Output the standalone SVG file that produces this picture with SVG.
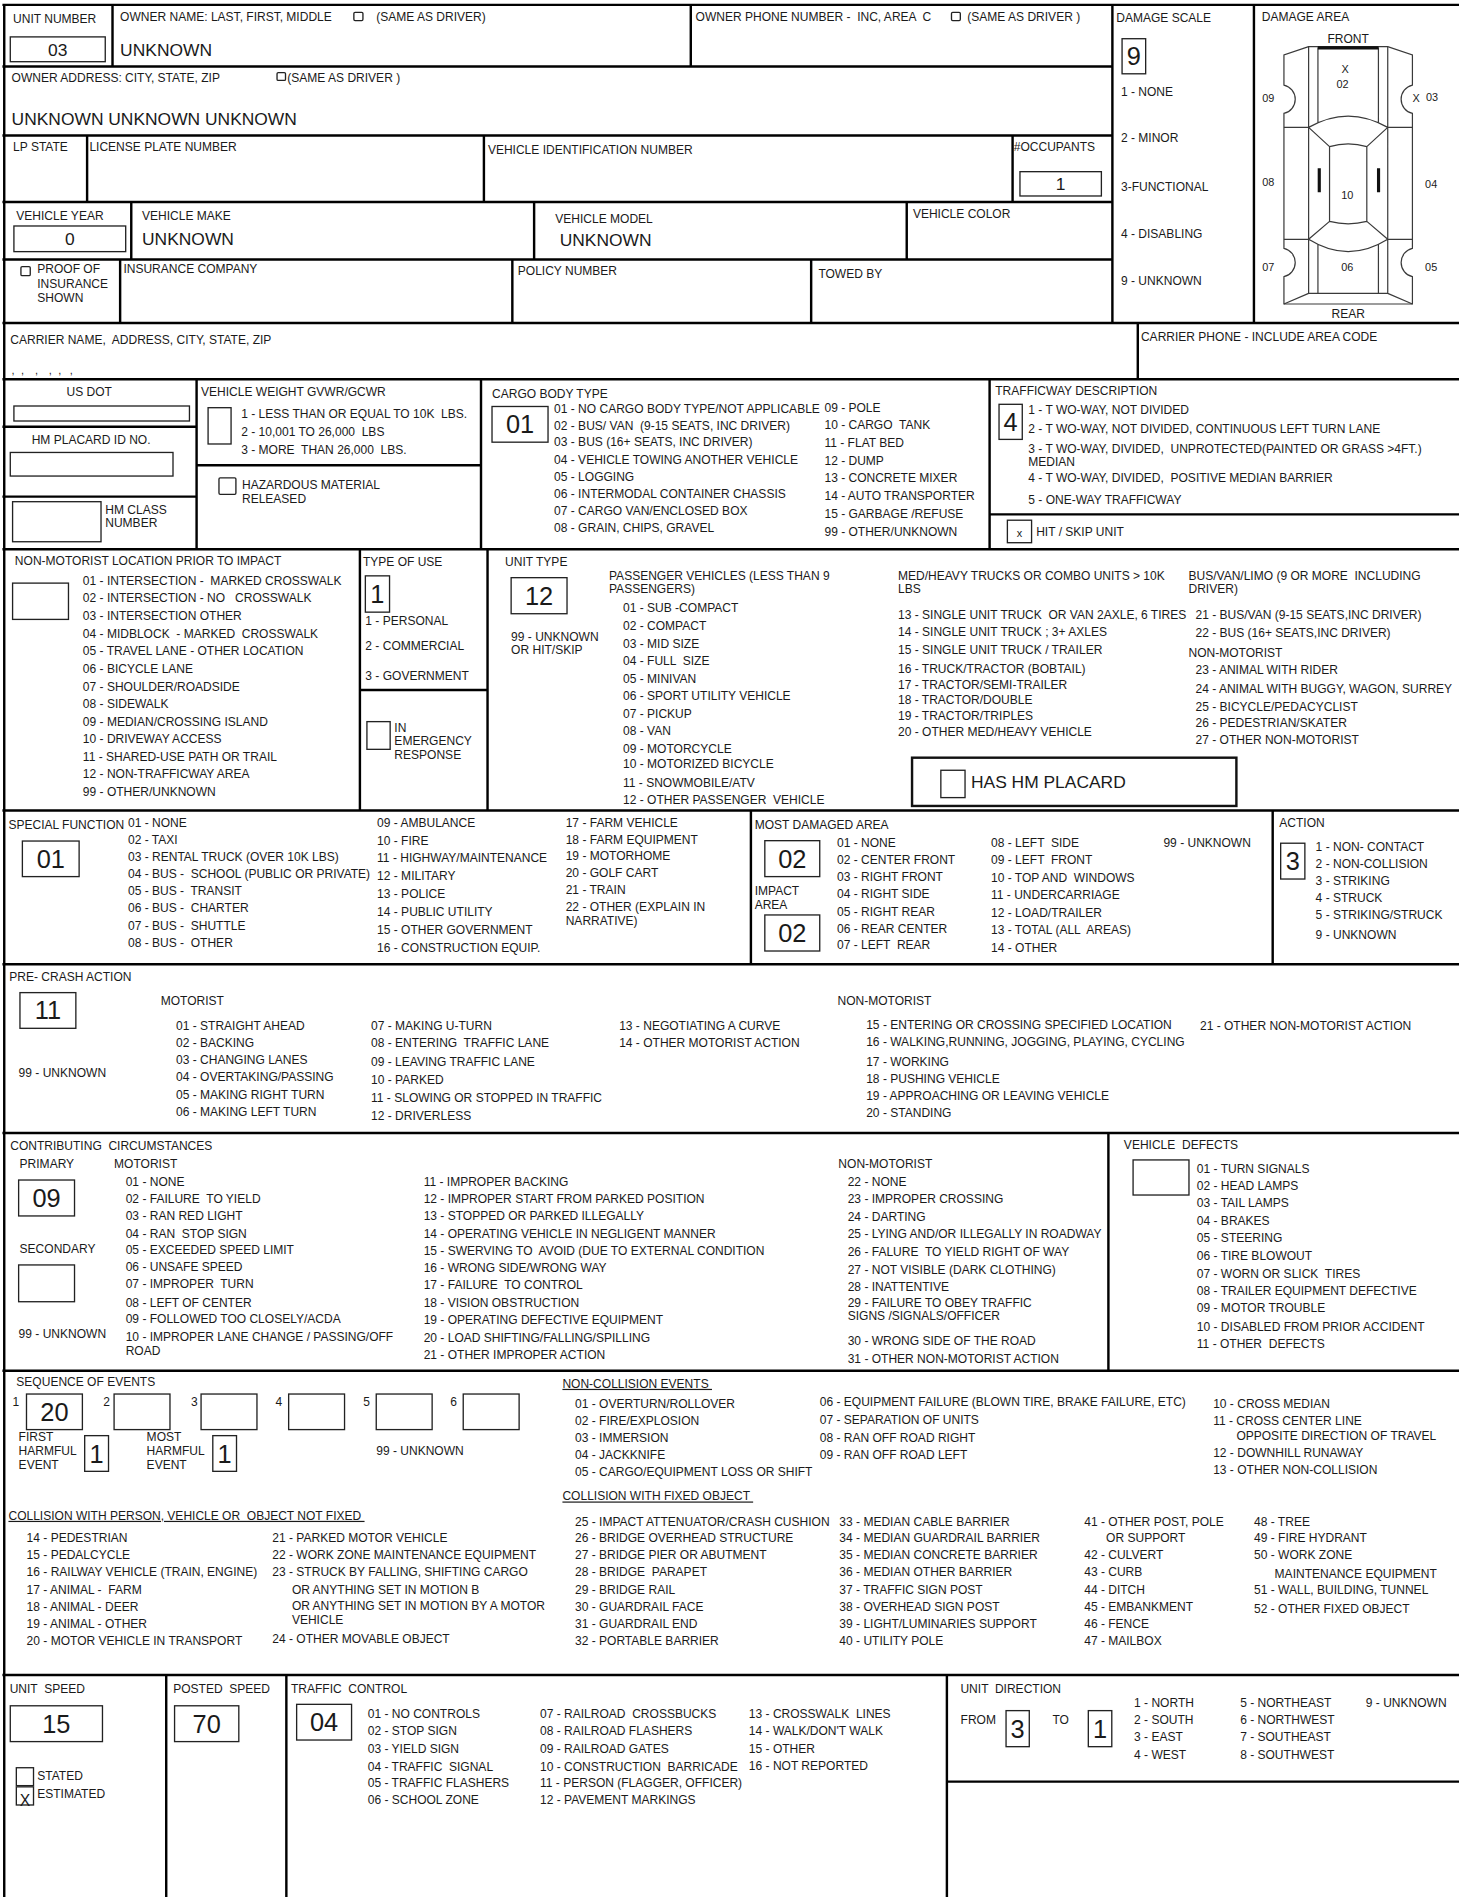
<svg xmlns="http://www.w3.org/2000/svg" width="1459" height="1897" viewBox="0 0 1459 1897" xml:space="preserve">
<style>
text{font-family:"Liberation Sans",Arial,Helvetica,sans-serif;font-size:9.95px;fill:#1a1a1a;white-space:pre}
.v{font-size:14.4px}
.n{font-size:21px;text-anchor:middle}
.m{text-anchor:middle}
.s{font-size:9px}
.u{text-decoration:underline}
.L{stroke:#000;stroke-width:2;fill:none;stroke-linecap:square}
.B{fill:#fff;stroke:#222;stroke-width:1.1}
.H{fill:#fff;stroke:#111;stroke-width:2}
.C{fill:none;stroke:#3a3a3a;stroke-width:1}
</style>
<rect width="1459" height="1897" fill="#fff"/>
<g transform="scale(1.20978)">
<g id="grid">
<path class="L" d="M3,4H1206M3,55H919.5M3,112H919.5M3,167H919.5M3,214.5H919.5M3,267H1206M3,313.5H1206M3,454H1206M3,670H1206M3,797H1206M3,936.5H1206M3,1133H1206M3,1384.5H1206M782.7,1472.7H1206M3,352.7H162.5M3,410.5H162.5M162.5,384.6H397.6M818,425.2H1206M297.5,570.4H403M3.5,4V1568M93,4V55M571,4V55M919.5,4V267M1036.5,4V267M72,112V167M400,112V167M837,112V167M108.5,167V214.5M441.5,167V214.5M749.5,167V214.5M99.3,214.5V267M423.5,214.5V267M670.5,214.5V267M940.5,267V313.5M162.5,313.5V454M397.6,313.5V454M818,313.5V454M297.5,454V670M403,454V670M620.7,670V797M1052,670V797M916.2,936.5V1133M137.4,1384.5V1568M236.7,1384.5V1568M782.7,1384.5V1568"/>
</g>

<g id="owner">
<text x="10.8" y="19.2">UNIT NUMBER</text>
<rect class="B" x="8.5" y="30.5" width="78.5" height="20.5"/>
<text class="v m" x="47.7" y="46">03</text>
<text x="99.3" y="17.3">OWNER NAME: LAST, FIRST, MIDDLE</text>
<rect class="B" x="292.5" y="10.2" width="7.5" height="6.8" rx="1"/>
<text x="311" y="17.3">(SAME AS DRIVER)</text>
<text class="v" x="99.3" y="46">UNKNOWN</text>
<text x="575" y="17.3">OWNER PHONE NUMBER -  INC, AREA  C</text>
<rect class="B" x="786.5" y="10.2" width="7.3" height="6.8" rx="1"/>
<text x="799.6" y="17.3">(SAME AS DRIVER )</text>
<text x="9.6" y="67.4">OWNER ADDRESS: CITY, STATE, ZIP</text>
<rect class="B" x="229" y="60" width="7" height="6.5" rx="1"/>
<text x="237.5" y="67.4">(SAME AS DRIVER )</text>
<text class="v" x="9.6" y="103">UNKNOWN UNKNOWN UNKNOWN</text>
</g>

<g id="vehicle">
<text x="10.8" y="124.7">LP STATE</text>
<text x="73.9" y="124.7">LICENSE PLATE NUMBER</text>
<text x="403.3" y="127.5">VEHICLE IDENTIFICATION NUMBER</text>
<text x="838" y="124.7">#OCCUPANTS</text>
<rect class="B" x="843.1" y="141.9" width="67.3" height="20.1"/>
<text class="v m" x="876.6" y="157">1</text>
<text x="13.5" y="182">VEHICLE YEAR</text>
<rect class="B" x="11.5" y="186.8" width="92.4" height="21.2"/>
<text class="v m" x="57.7" y="202.5">0</text>
<text x="117.4" y="182">VEHICLE MAKE</text>
<text class="v" x="117.4" y="202.5">UNKNOWN</text>
<text x="459" y="184.2">VEHICLE MODEL</text>
<text class="v" x="462.6" y="203.6">UNKNOWN</text>
<text x="754.6" y="179.8">VEHICLE COLOR</text>
<rect class="B" x="17.3" y="220.4" width="7.7" height="7.5" rx="1"/>
<text x="30.8" y="226">PROOF OF</text>
<text x="30.8" y="238.3">INSURANCE</text>
<text x="30.8" y="249.5">SHOWN</text>
<text x="102" y="225.3">INSURANCE COMPANY</text>
<text x="428" y="227.2">POLICY NUMBER</text>
<text x="676.5" y="230">TOWED BY</text>
</g>

<g id="damage-scale">
<text x="922.7" y="17.8">DAMAGE SCALE</text>
<rect class="B" x="927.5" y="32" width="19.5" height="29"/>
<text class="n" x="937.3" y="54">9</text>
<text x="926.6" y="79.3">1 - NONE</text>
<text x="926.6" y="117.8">2 - MINOR</text>
<text x="926.6" y="157.8">3-FUNCTIONAL</text>
<text x="926.6" y="196.4">4 - DISABLING</text>
<text x="926.6" y="235.5">9 - UNKNOWN</text>
</g>

<g id="damage-area">
<text x="1043" y="17.3">DAMAGE AREA</text>
<text class="m" x="1114.4" y="35.7">FRONT</text>
<text class="m" x="1114.4" y="262.5">REAR</text>
<path class="C" d="M1081.7,38.6L1061.3,45.5V70.3A12,12 0 0 1 1061.3,93.7V205.3A12,12 0 0 1 1061.3,228.7V251.3H1167.5V228.7A12,12 0 0 1 1167.5,205.3V93.7A12,12 0 0 1 1167.5,70.3V45.5L1147.1,38.6Z"/>
<path class="C" d="M1081.7,38.6V242.5M1147.1,38.6V242.5M1089.4,39V101.5M1139.4,39V101.5M1089.4,202V242.5M1139.4,202V242.5M1081.7,242.5H1147.1M1061.3,251.3L1081.7,242.5M1167.5,251.3L1147.1,242.5M1061.3,105.3H1081.7M1147.1,105.3H1167.5M1061.3,197.8H1081.7M1147.1,197.8H1167.5M1081.7,105.3Q1114.4,86.5 1147.1,105.3M1081.7,105.3L1099,121.2M1147.1,105.3L1129.8,121.2M1099,121.2Q1114.4,116.8 1129.8,121.2M1099,121.2V183M1129.8,121.2V183M1099,183Q1114.4,187 1129.8,183M1099,183L1081.7,197.8M1129.8,183L1147.1,197.8M1081.7,197.8Q1114.4,218.2 1147.1,197.8"/>
<path stroke="#111" stroke-width="2.6" d="M1089.4,39.6H1139.4M1090.5,139V159M1139.5,139V159"/>
<text class="s m" x="1111.8" y="60.5">X</text>
<text class="s m" x="1109.7" y="73">02</text>
<text class="s" x="1043.3" y="84.5">09</text>
<text class="s" x="1167.5" y="84.5">X</text>
<text class="s" x="1178.7" y="83.5">03</text>
<text class="s" x="1043.3" y="153.5">08</text>
<text class="s" x="1108.6" y="164.5">10</text>
<text class="s" x="1178" y="155.7">04</text>
<text class="s" x="1043.3" y="224">07</text>
<text class="s" x="1108.6" y="224">06</text>
<text class="s" x="1178" y="224">05</text>
</g>

<g id="carrier">
<text x="8.5" y="284">CARRIER NAME,  ADDRESS, CITY, STATE, ZIP</text>
<text class="s" x="9.6 17.3 28.9 40.4 48.1 57.7" y="309">,,,,,,</text>
<text x="943.1" y="281.8">CARRIER PHONE - INCLUDE AREA CODE</text>
</g>

<g id="usdot">
<text x="55" y="327.5">US DOT</text>
<rect class="B" x="11.5" y="335.6" width="145.1" height="12.4"/>
<text x="26.2" y="367">HM PLACARD ID NO.</text>
<rect class="B" x="8.5" y="374" width="134.5" height="19.5"/>
<rect class="B" x="10.4" y="414.7" width="73.1" height="33.1"/>
<text x="87" y="425">HM CLASS</text>
<text x="87" y="436">NUMBER</text>
</g>

<g id="weight">
<text x="166.2" y="327.5">VEHICLE WEIGHT GVWR/GCWR</text>
<rect class="B" x="172" y="337" width="19" height="30"/>
<text x="199.4" y="345.5">1 - LESS THAN OR EQUAL TO 10K  LBS.</text>
<text x="199.4" y="360.5">2 - 10,001 TO 26,000  LBS</text>
<text x="199.4" y="375.5">3 - MORE  THAN 26,000  LBS.</text>
<rect class="B" x="181" y="395" width="14" height="13.6" rx="1"/>
<text x="200" y="404.3">HAZARDOUS MATERIAL</text>
<text x="200" y="415.5">RELEASED</text>
</g>

<g id="cargo">
<text x="406.7" y="329">CARGO BODY TYPE</text>
<rect class="B" x="406.7" y="336" width="46.3" height="29.5"/>
<text class="n" x="429.9" y="358.2">01</text>
<text x="458" y="341">01 - NO CARGO BODY TYPE/NOT APPLICABLE</text>
<text x="458" y="355.1">02 - BUS/ VAN  (9-15 SEATS, INC DRIVER)</text>
<text x="458" y="368.9">03 - BUS (16+ SEATS, INC DRIVER)</text>
<text x="458" y="383.2">04 - VEHICLE TOWING ANOTHER VEHICLE</text>
<text x="458" y="397.5">05 - LOGGING</text>
<text x="458" y="411.5">06 - INTERMODAL CONTAINER CHASSIS</text>
<text x="458" y="425.5">07 - CARGO VAN/ENCLOSED BOX</text>
<text x="458" y="439.9">08 - GRAIN, CHIPS, GRAVEL</text>
<text x="681.5" y="340.4">09 - POLE</text>
<text x="681.5" y="354.8">10 - CARGO  TANK</text>
<text x="681.5" y="369.5">11 - FLAT BED</text>
<text x="681.5" y="384.3">12 - DUMP</text>
<text x="681.5" y="398.5">13 - CONCRETE MIXER</text>
<text x="681.5" y="413.2">14 - AUTO TRANSPORTER</text>
<text x="681.5" y="428.1">15 - GARBAGE /REFUSE</text>
<text x="681.5" y="443">99 - OTHER/UNKNOWN</text>
</g>

<g id="trafficway">
<text x="822.7" y="326.7">TRAFFICWAY DESCRIPTION</text>
<rect class="B" x="825.8" y="334.2" width="19.2" height="29"/>
<text class="n" x="835.4" y="356.2">4</text>
<text x="850" y="342.5">1 - T WO-WAY, NOT DIVIDED</text>
<text x="850" y="357.8">2 - T WO-WAY, NOT DIVIDED, CONTINUOUS LEFT TURN LANE</text>
<text x="850" y="374.4">3 - T WO-WAY, DIVIDED,  UNPROTECTED(PAINTED OR GRASS &gt;4FT.)</text>
<text x="850" y="385.4">MEDIAN</text>
<text x="850" y="398.3">4 - T WO-WAY, DIVIDED,  POSITIVE MEDIAN BARRIER</text>
<text x="850" y="416.8">5 - ONE-WAY TRAFFICWAY</text>
<rect class="B" x="832.7" y="430" width="20" height="18.6"/>
<text class="s m" x="842.7" y="443.5">x</text>
<text x="856.5" y="443">HIT / SKIP UNIT</text>
</g>

<g id="nonmotorist-location">
<text x="12.3" y="467.2">NON-MOTORIST LOCATION PRIOR TO IMPACT</text>
<rect class="B" x="10.4" y="482" width="46.2" height="30"/>
<text x="68.5" y="483.2">01 - INTERSECTION -  MARKED CROSSWALK</text>
<text x="68.5" y="497.5">02 - INTERSECTION - NO   CROSSWALK</text>
<text x="68.5" y="512.5">03 - INTERSECTION OTHER</text>
<text x="68.5" y="527.3">04 - MIDBLOCK  - MARKED  CROSSWALK</text>
<text x="68.5" y="541.5">05 - TRAVEL LANE - OTHER LOCATION</text>
<text x="68.5" y="556.5">06 - BICYCLE LANE</text>
<text x="68.5" y="571.1">07 - SHOULDER/ROADSIDE</text>
<text x="68.5" y="585.5">08 - SIDEWALK</text>
<text x="68.5" y="600">09 - MEDIAN/CROSSING ISLAND</text>
<text x="68.5" y="614.5">10 - DRIVEWAY ACCESS</text>
<text x="68.5" y="629">11 - SHARED-USE PATH OR TRAIL</text>
<text x="68.5" y="643.5">12 - NON-TRAFFICWAY AREA</text>
<text x="68.5" y="657.9">99 - OTHER/UNKNOWN</text>
</g>

<g id="type-of-use">
<text x="300" y="467.5">TYPE OF USE</text>
<rect class="B" x="302" y="476" width="20" height="30"/>
<text class="n" x="312" y="498.5">1</text>
<text x="302" y="516.8">1 - PERSONAL</text>
<text x="302" y="536.9">2 - COMMERCIAL</text>
<text x="302" y="561.7">3 - GOVERNMENT</text>
<rect class="B" x="303.3" y="596.5" width="19.2" height="22.9"/>
<text x="326" y="605">IN</text>
<text x="326" y="616">EMERGENCY</text>
<text x="326" y="627.5">RESPONSE</text>
</g>

<g id="unit-type">
<text x="417.5" y="467.5">UNIT TYPE</text>
<rect class="B" x="422.5" y="477.5" width="46.2" height="29.8"/>
<text class="n" x="445.6" y="499.9">12</text>
<text x="422.5" y="529.8">99 - UNKNOWN</text>
<text x="422.5" y="540.8">OR HIT/SKIP</text>
<text x="503.4" y="479.5">PASSENGER VEHICLES (LESS THAN 9</text>
<text x="503.4" y="490.5">PASSENGERS)</text>
<text x="515" y="506.3">01 - SUB -COMPACT</text>
<text x="515" y="520.7">02 - COMPACT</text>
<text x="515" y="535.5">03 - MID SIZE</text>
<text x="515" y="549.9">04 - FULL  SIZE</text>
<text x="515" y="564.8">05 - MINIVAN</text>
<text x="515" y="578.8">06 - SPORT UTILITY VEHICLE</text>
<text x="515" y="593.5">07 - PICKUP</text>
<text x="515" y="607.7">08 - VAN</text>
<text x="515" y="622.3">09 - MOTORCYCLE</text>
<text x="515" y="634.5">10 - MOTORIZED BICYCLE</text>
<text x="515" y="650.5">11 - SNOWMOBILE/ATV</text>
<text x="515" y="665">12 - OTHER PASSENGER  VEHICLE</text>
<text x="742.3" y="479.5">MED/HEAVY TRUCKS OR COMBO UNITS &gt; 10K</text>
<text x="742.3" y="490.5">LBS</text>
<text x="742.3" y="511.5">13 - SINGLE UNIT TRUCK  OR VAN 2AXLE, 6 TIRES</text>
<text x="742.3" y="525.9">14 - SINGLE UNIT TRUCK ; 3+ AXLES</text>
<text x="742.3" y="540.8">15 - SINGLE UNIT TRUCK / TRAILER</text>
<text x="742.3" y="556.5">16 - TRUCK/TRACTOR (BOBTAIL)</text>
<text x="742.3" y="569.5">17 - TRACTOR/SEMI-TRAILER</text>
<text x="742.3" y="581.9">18 - TRACTOR/DOUBLE</text>
<text x="742.3" y="595.1">19 - TRACTOR/TRIPLES</text>
<text x="742.3" y="608.3">20 - OTHER MED/HEAVY VEHICLE</text>
<text x="982.4" y="479.5">BUS/VAN/LIMO (9 OR MORE  INCLUDING</text>
<text x="982.4" y="490.5">DRIVER)</text>
<text x="988.2" y="511.3">21 - BUS/VAN (9-15 SEATS,INC DRIVER)</text>
<text x="988.2" y="526.7">22 - BUS (16+ SEATS,INC DRIVER)</text>
<text x="982.4" y="543">NON-MOTORIST</text>
<text x="988.2" y="557.3">23 - ANIMAL WITH RIDER</text>
<text x="988.2" y="572.7">24 - ANIMAL WITH BUGGY, WAGON, SURREY</text>
<text x="988.2" y="587.9">25 - BICYCLE/PEDACYCLIST</text>
<text x="988.2" y="601.1">26 - PEDESTRIAN/SKATER</text>
<text x="988.2" y="614.6">27 - OTHER NON-MOTORIST</text>
<rect class="H" x="753.9" y="626.3" width="268.1" height="39.9"/>
<rect class="B" x="777.7" y="636.7" width="20" height="22.6"/>
<text class="v" x="802.6" y="651.5">HAS HM PLACARD</text>
</g>

<g id="special-function">
<text x="7" y="685">SPECIAL FUNCTION</text>
<rect class="B" x="18.5" y="695.2" width="46.9" height="29.4"/>
<text class="n" x="42" y="717.4">01</text>
<text x="105.8" y="683.2">01 - NONE</text>
<text x="105.8" y="697.8">02 - TAXI</text>
<text x="105.8" y="711.6">03 - RENTAL TRUCK (OVER 10K LBS)</text>
<text x="105.8" y="725.9">04 - BUS -  SCHOOL (PUBLIC OR PRIVATE)</text>
<text x="105.8" y="740">05 - BUS -  TRANSIT</text>
<text x="105.8" y="753.8">06 - BUS -  CHARTER</text>
<text x="105.8" y="768.7">07 - BUS -  SHUTTLE</text>
<text x="105.8" y="782.7">08 - BUS -  OTHER</text>
<text x="311.7" y="683.2">09 - AMBULANCE</text>
<text x="311.7" y="698.5">10 - FIRE</text>
<text x="311.7" y="712.5">11 - HIGHWAY/MAINTENANCE</text>
<text x="311.7" y="727.4">12 - MILITARY</text>
<text x="311.7" y="742.2">13 - POLICE</text>
<text x="311.7" y="757.1">14 - PUBLIC UTILITY</text>
<text x="311.7" y="772.2">15 - OTHER GOVERNMENT</text>
<text x="311.7" y="787.1">16 - CONSTRUCTION EQUIP.</text>
<text x="467.6" y="683.2">17 - FARM VEHICLE</text>
<text x="467.6" y="697.3">18 - FARM EQUIPMENT</text>
<text x="467.6" y="710.8">19 - MOTORHOME</text>
<text x="467.6" y="724.9">20 - GOLF CART</text>
<text x="467.6" y="738.9">21 - TRAIN</text>
<text x="467.6" y="753">22 - OTHER (EXPLAIN IN</text>
<text x="467.6" y="764.8">NARRATIVE)</text>
</g>

<g id="most-damaged">
<text x="623.8" y="685.5">MOST DAMAGED AREA</text>
<rect class="B" x="632.2" y="694.9" width="45.4" height="29.7"/>
<text class="n" x="654.9" y="717.1">02</text>
<text x="623.8" y="740">IMPACT</text>
<text x="623.8" y="751">AREA</text>
<rect class="B" x="632.2" y="756.3" width="45.4" height="29.8"/>
<text class="n" x="654.9" y="778.6">02</text>
<text x="691.9" y="700">01 - NONE</text>
<text x="691.9" y="714.1">02 - CENTER FRONT</text>
<text x="691.9" y="728.1">03 - RIGHT FRONT</text>
<text x="691.9" y="742.5">04 - RIGHT SIDE</text>
<text x="691.9" y="757.1">05 - RIGHT REAR</text>
<text x="691.9" y="771.4">06 - REAR CENTER</text>
<text x="691.9" y="784.4">07 - LEFT  REAR</text>
<text x="819.2" y="700">08 - LEFT  SIDE</text>
<text x="819.2" y="714.1">09 - LEFT  FRONT</text>
<text x="819.2" y="729">10 - TOP AND  WINDOWS</text>
<text x="819.2" y="743">11 - UNDERCARRIAGE</text>
<text x="819.2" y="757.9">12 - LOAD/TRAILER</text>
<text x="819.2" y="772.2">13 - TOTAL (ALL  AREAS)</text>
<text x="819.2" y="786.8">14 - OTHER</text>
<text x="961.7" y="700">99 - UNKNOWN</text>
</g>

<g id="action">
<text x="1057.5" y="683.2">ACTION</text>
<rect class="B" x="1058.6" y="697" width="20" height="29.6"/>
<text class="n" x="1068.6" y="719.3">3</text>
<text x="1087.5" y="703.4">1 - NON- CONTACT</text>
<text x="1087.5" y="717.4">2 - NON-COLLISION</text>
<text x="1087.5" y="731.5">3 - STRIKING</text>
<text x="1087.5" y="745.5">4 - STRUCK</text>
<text x="1087.5" y="759.5">5 - STRIKING/STRUCK</text>
<text x="1087.5" y="776.1">9 - UNKNOWN</text>
</g>

<g id="pre-crash">
<text x="7.7" y="811.1">PRE- CRASH ACTION</text>
<rect class="B" x="16.5" y="820.5" width="46.2" height="29.5"/>
<text class="n" x="39.6" y="842.5">11</text>
<text x="132.8" y="830.5">MOTORIST</text>
<text x="15.4" y="890.2">99 - UNKNOWN</text>
<text x="145.5" y="851.3">01 - STRAIGHT AHEAD</text>
<text x="145.5" y="865.6">02 - BACKING</text>
<text x="145.5" y="879.7">03 - CHANGING LANES</text>
<text x="145.5" y="893.5">04 - OVERTAKING/PASSING</text>
<text x="145.5" y="908.4">05 - MAKING RIGHT TURN</text>
<text x="145.5" y="922.4">06 - MAKING LEFT TURN</text>
<text x="306.7" y="851.3">07 - MAKING U-TURN</text>
<text x="306.7" y="865.6">08 - ENTERING  TRAFFIC LANE</text>
<text x="306.7" y="881.3">09 - LEAVING TRAFFIC LANE</text>
<text x="306.7" y="896.2">10 - PARKED</text>
<text x="306.7" y="911.1">11 - SLOWING OR STOPPED IN TRAFFIC</text>
<text x="306.7" y="926">12 - DRIVERLESS</text>
<text x="511.8" y="851.3">13 - NEGOTIATING A CURVE</text>
<text x="511.8" y="865.6">14 - OTHER MOTORIST ACTION</text>
<text x="692.3" y="830.5">NON-MOTORIST</text>
<text x="716" y="850.8">15 - ENTERING OR CROSSING SPECIFIED LOCATION</text>
<text x="716" y="864.8">16 - WALKING,RUNNING, JOGGING, PLAYING, CYCLING</text>
<text x="716" y="881.3">17 - WORKING</text>
<text x="716" y="895.4">18 - PUSHING VEHICLE</text>
<text x="716" y="909.2">19 - APPROACHING OR LEAVING VEHICLE</text>
<text x="716" y="923.2">20 - STANDING</text>
<text x="991.9" y="851.3">21 - OTHER NON-MOTORIST ACTION</text>
</g>

<g id="contributing">
<text x="8.5" y="950.5">CONTRIBUTING  CIRCUMSTANCES</text>
<text x="16.2" y="965.1">PRIMARY</text>
<text x="94.3" y="965.1">MOTORIST</text>
<rect class="B" x="15.4" y="975.4" width="46.2" height="29.7"/>
<text class="n" x="38.5" y="997.5">09</text>
<text x="16.2" y="1035.9">SECONDARY</text>
<rect class="B" x="15.4" y="1045.6" width="46.2" height="30.4"/>
<text x="15.4" y="1105.6">99 - UNKNOWN</text>
<text x="103.9" y="980.3">01 - NONE</text>
<text x="103.9" y="994.8">02 - FAILURE  TO YIELD</text>
<text x="103.9" y="1008.6">03 - RAN RED LIGHT</text>
<text x="103.9" y="1023">04 - RAN  STOP SIGN</text>
<text x="103.9" y="1036.8">05 - EXCEEDED SPEED LIMIT</text>
<text x="103.9" y="1050.5">06 - UNSAFE SPEED</text>
<text x="103.9" y="1064.8">07 - IMPROPER  TURN</text>
<text x="103.9" y="1080.3">08 - LEFT OF CENTER</text>
<text x="103.9" y="1094">09 - FOLLOWED TOO CLOSELY/ACDA</text>
<text x="103.9" y="1108.4">10 - IMPROPER LANE CHANGE / PASSING/OFF</text>
<text x="103.9" y="1120">ROAD</text>
<text x="350.2" y="980.3">11 - IMPROPER BACKING</text>
<text x="350.2" y="994.8">12 - IMPROPER START FROM PARKED POSITION</text>
<text x="350.2" y="1008.6">13 - STOPPED OR PARKED ILLEGALLY</text>
<text x="350.2" y="1023">14 - OPERATING VEHICLE IN NEGLIGENT MANNER</text>
<text x="350.2" y="1037.3">15 - SWERVING TO  AVOID (DUE TO EXTERNAL CONDITION</text>
<text x="350.2" y="1051.6">16 - WRONG SIDE/WRONG WAY</text>
<text x="350.2" y="1065.7">17 - FAILURE  TO CONTROL</text>
<text x="350.2" y="1080.3">18 - VISION OBSTRUCTION</text>
<text x="350.2" y="1094.6">19 - OPERATING DEFECTIVE EQUIPMENT</text>
<text x="350.2" y="1108.9">20 - LOAD SHIFTING/FALLING/SPILLING</text>
<text x="350.2" y="1123.3">21 - OTHER IMPROPER ACTION</text>
<text x="693" y="965.1">NON-MOTORIST</text>
<text x="700.7" y="980.3">22 - NONE</text>
<text x="700.7" y="994.8">23 - IMPROPER CROSSING</text>
<text x="700.7" y="1009.2">24 - DARTING</text>
<text x="700.7" y="1023.5">25 - LYING AND/OR ILLEGALLY IN ROADWAY</text>
<text x="700.7" y="1038.1">26 - FALURE  TO YIELD RIGHT OF WAY</text>
<text x="700.7" y="1053.2">27 - NOT VISIBLE (DARK CLOTHING)</text>
<text x="700.7" y="1067.1">28 - INATTENTIVE</text>
<text x="700.7" y="1080.3">29 - FAILURE TO OBEY TRAFFIC</text>
<text x="700.7" y="1091.3">SIGNS /SIGNALS/OFFICER</text>
<text x="700.7" y="1111.7">30 - WRONG SIDE OF THE ROAD</text>
<text x="700.7" y="1126.3">31 - OTHER NON-MOTORIST ACTION</text>
</g>

<g id="vehicle-defects">
<text x="929" y="950">VEHICLE  DEFECTS</text>
<rect class="B" x="936.6" y="958.8" width="46.2" height="29"/>
<text x="989.3" y="969.2">01 - TURN SIGNALS</text>
<text x="989.3" y="983.8">02 - HEAD LAMPS</text>
<text x="989.3" y="998.1">03 - TAIL LAMPS</text>
<text x="989.3" y="1012.5">04 - BRAKES</text>
<text x="989.3" y="1026.5">05 - STEERING</text>
<text x="989.3" y="1041.7">06 - TIRE BLOWOUT</text>
<text x="989.3" y="1056">07 - WORN OR SLICK  TIRES</text>
<text x="989.3" y="1070.6">08 - TRAILER EQUIPMENT DEFECTIVE</text>
<text x="989.3" y="1084.9">09 - MOTOR TROUBLE</text>
<text x="989.3" y="1100.1">10 - DISABLED FROM PRIOR ACCIDENT</text>
<text x="989.3" y="1113.9">11 - OTHER  DEFECTS</text>
</g>

<g id="sequence">
<text x="13.5" y="1146">SEQUENCE OF EVENTS</text>
<text x="10.4" y="1161.8">1</text>
<text x="85.4" y="1161.8">2</text>
<text x="157.8" y="1161.8">3</text>
<text x="227.8" y="1161.8">4</text>
<text x="300.2" y="1161.8">5</text>
<text x="372.1" y="1161.8">6</text>
<rect class="B" x="21.9" y="1152.3" width="46.2" height="29.4"/>
<rect class="B" x="94.3" y="1152.3" width="46.2" height="29.4"/>
<rect class="B" x="166.2" y="1152.3" width="46.2" height="29.4"/>
<rect class="B" x="238.6" y="1152.3" width="46.2" height="29.4"/>
<rect class="B" x="311" y="1152.3" width="46.2" height="29.4"/>
<rect class="B" x="382.9" y="1152.3" width="46.2" height="29.4"/>
<text class="n" x="45" y="1174.4">20</text>
<text x="15.4" y="1191.3">FIRST</text>
<text x="15.4" y="1202.9">HARMFUL</text>
<text x="15.4" y="1214.5">EVENT</text>
<rect class="B" x="70" y="1186.7" width="19.7" height="29.5"/>
<text class="n" x="79.85" y="1209">1</text>
<text x="121.2" y="1191.3">MOST</text>
<text x="121.2" y="1202.9">HARMFUL</text>
<text x="121.2" y="1214.5">EVENT</text>
<rect class="B" x="175.9" y="1186.7" width="19.6" height="29.5"/>
<text class="n" x="185.7" y="1209">1</text>
<text x="311" y="1202.9">99 - UNKNOWN</text>
<text class="u" x="464.9" y="1147.2">NON-COLLISION EVENTS </text>
<text x="475.3" y="1163.8">01 - OVERTURN/ROLLOVER</text>
<text x="475.3" y="1177.8">02 - FIRE/EXPLOSION</text>
<text x="475.3" y="1192.1">03 - IMMERSION</text>
<text x="475.3" y="1206.2">04 - JACKKNIFE</text>
<text x="475.3" y="1220.2">05 - CARGO/EQUIPMENT LOSS OR SHIFT</text>
<text x="677.6" y="1162.4">06 - EQUIPMENT FAILURE (BLOWN TIRE, BRAKE FAILURE, ETC)</text>
<text x="677.6" y="1177">07 - SEPARATION OF UNITS</text>
<text x="677.6" y="1192.1">08 - RAN OFF ROAD RIGHT</text>
<text x="677.6" y="1205.9">09 - RAN OFF ROAD LEFT</text>
<text x="1002.8" y="1163.8">10 - CROSS MEDIAN</text>
<text x="1002.8" y="1177.8">11 - CROSS CENTER LINE</text>
<text x="1022" y="1190.2">OPPOSITE DIRECTION OF TRAVEL</text>
<text x="1002.8" y="1204.5">12 - DOWNHILL RUNAWAY</text>
<text x="1002.8" y="1218.3">13 - OTHER NON-COLLISION</text>
<text class="u" x="464.9" y="1240.3">COLLISION WITH FIXED OBJECT </text>
<text class="u" x="7" y="1256.3">COLLISION WITH PERSON, VEHICLE OR  OBJECT NOT FIXED </text>
<text x="22" y="1274.8">14 - PEDESTRIAN</text>
<text x="22" y="1288.6">15 - PEDALCYCLE</text>
<text x="22" y="1302.9">16 - RAILWAY VEHICLE (TRAIN, ENGINE)</text>
<text x="22" y="1317.5">17 - ANIMAL -  FARM</text>
<text x="22" y="1331.8">18 - ANIMAL - DEER</text>
<text x="22" y="1345.9">19 - ANIMAL - OTHER</text>
<text x="22" y="1359.7">20 - MOTOR VEHICLE IN TRANSPORT</text>
<text x="225.1" y="1274.8">21 - PARKED MOTOR VEHICLE</text>
<text x="225.1" y="1288.6">22 - WORK ZONE MAINTENANCE EQUIPMENT</text>
<text x="225.1" y="1302.9">23 - STRUCK BY FALLING, SHIFTING CARGO</text>
<text x="241.3" y="1317.5">OR ANYTHING SET IN MOTION B</text>
<text x="241.3" y="1330.7">OR ANYTHING SET IN MOTION BY A MOTOR</text>
<text x="241.3" y="1342.2">VEHICLE</text>
<text x="225.1" y="1358">24 - OTHER MOVABLE OBJECT</text>
<text x="475.3" y="1261">25 - IMPACT ATTENUATOR/CRASH CUSHION</text>
<text x="475.3" y="1274.8">26 - BRIDGE OVERHEAD STRUCTURE</text>
<text x="475.3" y="1288.6">27 - BRIDGE PIER OR ABUTMENT</text>
<text x="475.3" y="1302.9">28 - BRIDGE  PARAPET</text>
<text x="475.3" y="1317.5">29 - BRIDGE RAIL</text>
<text x="475.3" y="1331.8">30 - GUARDRAIL FACE</text>
<text x="475.3" y="1345.9">31 - GUARDRAIL END</text>
<text x="475.3" y="1359.7">32 - PORTABLE BARRIER</text>
<text x="693.8" y="1261">33 - MEDIAN CABLE BARRIER</text>
<text x="693.8" y="1274.8">34 - MEDIAN GUARDRAIL BARRIER</text>
<text x="693.8" y="1288.6">35 - MEDIAN CONCRETE BARRIER</text>
<text x="693.8" y="1302.9">36 - MEDIAN OTHER BARRIER</text>
<text x="693.8" y="1317.5">37 - TRAFFIC SIGN POST</text>
<text x="693.8" y="1331.8">38 - OVERHEAD SIGN POST</text>
<text x="693.8" y="1345.9">39 - LIGHT/LUMINARIES SUPPORT</text>
<text x="693.8" y="1359.7">40 - UTILITY POLE</text>
<text x="896.2" y="1261">41 - OTHER POST, POLE</text>
<text x="914.3" y="1274.8">OR SUPPORT</text>
<text x="896.2" y="1288.6">42 - CULVERT</text>
<text x="896.2" y="1302.9">43 - CURB</text>
<text x="896.2" y="1317.5">44 - DITCH</text>
<text x="896.2" y="1331.8">45 - EMBANKMENT</text>
<text x="896.2" y="1345.9">46 - FENCE</text>
<text x="896.2" y="1359.7">47 - MAILBOX</text>
<text x="1036.6" y="1261">48 - TREE</text>
<text x="1036.6" y="1274.8">49 - FIRE HYDRANT</text>
<text x="1036.6" y="1288.6">50 - WORK ZONE</text>
<text x="1053.6" y="1304.3">MAINTENANCE EQUIPMENT</text>
<text x="1036.6" y="1317.5">51 - WALL, BUILDING, TUNNEL</text>
<text x="1036.6" y="1333.1">52 - OTHER FIXED OBJECT</text>
</g>

<g id="speed">
<text x="8" y="1399.1">UNIT  SPEED</text>
<rect class="B" x="8.5" y="1410" width="76.2" height="29.6"/>
<text class="n" x="46.6" y="1432.3">15</text>
<rect class="B" x="13.5" y="1461.2" width="14.2" height="14.8"/>
<text x="30.8" y="1471.5">STATED</text>
<rect class="B" x="13.5" y="1477" width="14.2" height="15"/>
<text class="m" style="font-size:13px" x="20.6" y="1492.5">X</text>
<text x="30.8" y="1486.5">ESTIMATED</text>
<text x="143.2" y="1399.1">POSTED  SPEED</text>
<rect class="B" x="144.3" y="1410" width="53.1" height="29.6"/>
<text class="n" x="170.85" y="1432.3">70</text>
</g>

<g id="traffic-control">
<text x="240.5" y="1399.1">TRAFFIC  CONTROL</text>
<rect class="B" x="245.2" y="1408.8" width="45.4" height="29.5"/>
<text class="n" x="267.9" y="1431">04</text>
<text x="304" y="1419.7">01 - NO CONTROLS</text>
<text x="304" y="1434.3">02 - STOP SIGN</text>
<text x="304" y="1449.2">03 - YIELD SIGN</text>
<text x="304" y="1463.8">04 - TRAFFIC  SIGNAL</text>
<text x="304" y="1477">05 - TRAFFIC FLASHERS</text>
<text x="304" y="1490.8">06 - SCHOOL ZONE</text>
<text x="446.4" y="1419.7">07 - RAILROAD  CROSSBUCKS</text>
<text x="446.4" y="1434.3">08 - RAILROAD FLASHERS</text>
<text x="446.4" y="1449.2">09 - RAILROAD GATES</text>
<text x="446.4" y="1463.8">10 - CONSTRUCTION  BARRICADE</text>
<text x="446.4" y="1477">11 - PERSON (FLAGGER, OFFICER)</text>
<text x="446.4" y="1490.8">12 - PAVEMENT MARKINGS</text>
<text x="619" y="1419.7">13 - CROSSWALK  LINES</text>
<text x="619" y="1434.3">14 - WALK/DON'T WALK</text>
<text x="619" y="1449.2">15 - OTHER</text>
<text x="619" y="1463.5">16 - NOT REPORTED</text>
</g>

<g id="unit-direction">
<text x="793.9" y="1399.1">UNIT  DIRECTION</text>
<text x="794" y="1424.7">FROM</text>
<rect class="B" x="831.6" y="1414" width="19.2" height="29.8"/>
<text class="n" x="841.2" y="1436.4">3</text>
<text x="870" y="1424.7">TO</text>
<rect class="B" x="899.6" y="1414" width="19.4" height="29.8"/>
<text class="n" x="909.3" y="1436.4">1</text>
<text x="937.4" y="1410.6">1 - NORTH</text>
<text x="937.4" y="1425.2">2 - SOUTH</text>
<text x="937.4" y="1439">3 - EAST</text>
<text x="937.4" y="1454.2">4 - WEST</text>
<text x="1025.1" y="1410.6">5 - NORTHEAST</text>
<text x="1025.1" y="1425.2">6 - NORTHWEST</text>
<text x="1025.1" y="1439">7 - SOUTHEAST</text>
<text x="1025.1" y="1454.2">8 - SOUTHWEST</text>
<text x="1129" y="1410.6">9 - UNKNOWN</text>
</g>
</g>
</svg>
